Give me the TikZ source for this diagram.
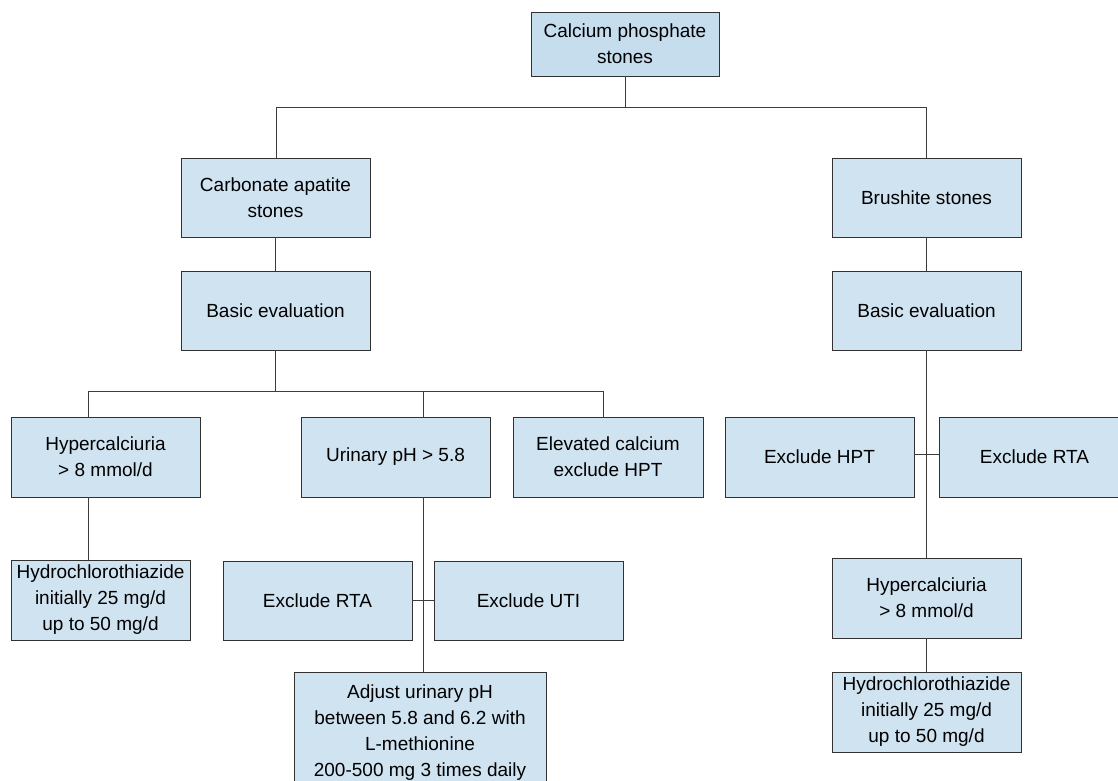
\documentclass[tikz,border=0pt]{standalone}
\usepackage{fontspec}
\setmainfont{Liberation Sans}
\definecolor{boxfill}{RGB}{208,227,241}
\definecolor{topfill}{RGB}{198,221,238}
\definecolor{boxline}{RGB}{50,50,50}
\definecolor{conline}{RGB}{60,60,60}
\begin{document}
\begin{tikzpicture}[x=1pt,y=-1pt,
  box/.style={draw=boxline,line width=0.9pt,fill=boxfill,rectangle,align=center,
    inner sep=0pt,minimum width=189pt,minimum height=79pt,
    font=\fontsize{19}{26}\selectfont},
  con/.style={draw=conline,line width=0.9pt}]
\useasboundingbox (0,0) rectangle (1118,780);
\clip (0,0) rectangle (1118,780);
\node[box,fill=topfill,minimum width=188pt,minimum height=64pt] (top) at (625,44) {Calcium phosphate\\stones};
\node[box] (carb) at (275.5,197.5) {Carbonate apatite\\stones};
\node[box] (brush) at (926.5,197.5) {Brushite stones};
\node[box] (be1) at (275.5,310.5) {Basic evaluation};
\node[box] (be2) at (926.5,310.5) {Basic evaluation};
\node[box,minimum height=80pt] (hyp1) at (105.5,457) {Hypercalciuria\\> 8 mmol/d};
\node[box,minimum height=80pt] (uph) at (395.5,457) {Urinary pH > 5.8};
\node[box,minimum width=190pt,minimum height=80pt] (elev) at (608,457) {Elevated calcium\\exclude HPT};
\node[box,minimum width=179pt,minimum height=80pt] (hydro1) at (100.5,600) {Hydrochlorothiazide\\initially 25 mg/d\\up to 50 mg/d};
\node[box] (rta1) at (317.5,600.5) {Exclude RTA};
\node[box] (uti) at (528.5,600.5) {Exclude UTI};
\node[box,minimum width=252pt,minimum height=118pt,text depth=0pt] (adj) at (420,731) {Adjust urinary pH\\between 5.8 and 6.2 with\\L-methionine\\200-500 mg 3 times daily};
\node[box,minimum height=80pt] (hpt) at (819.5,457) {Exclude HPT};
\node[box,minimum width=191pt,minimum height=80pt] (rta2) at (1034.5,457) {Exclude RTA};
\node[box,minimum height=80pt] (hyp2) at (926.5,598) {Hypercalciuria\\> 8 mmol/d};
\node[box,minimum height=80pt] (hydro2) at (926.5,712) {Hydrochlorothiazide\\initially 25 mg/d\\up to 50 mg/d};
% connectors
\draw[con] (top.south) -- ++(0,31) coordinate (j0);
\draw[con] (j0) -| ([xshift=0.5pt]carb.north);
\draw[con] (j0) -| (brush.north);
\draw[con] (carb) -- (be1);
\draw[con] (brush) -- (be2);
\draw[con] (be1.south) -- ++(0,41) coordinate (j1);
\draw[con] (j1) -| ([xshift=-17.5pt]hyp1.north);
\draw[con] (j1) -| ([xshift=27.5pt]uph.north);
\draw[con] (j1) -| ([xshift=-5pt]elev.north);
\draw[con] ([xshift=-17.5pt]hyp1.south) -- ([xshift=-12.5pt]hydro1.north);
\draw[con] ([xshift=27.5pt]uph.south) -- ([xshift=3pt]adj.north);
\draw[con] (rta1.east) -- (uti.west);
\draw[con] (be2.south) -- (hyp2.north);
\draw[con] ([yshift=3pt]hpt.east) -- ([yshift=3pt]rta2.west);
\draw[con] (hyp2) -- (hydro2);
\end{tikzpicture}
\end{document}
